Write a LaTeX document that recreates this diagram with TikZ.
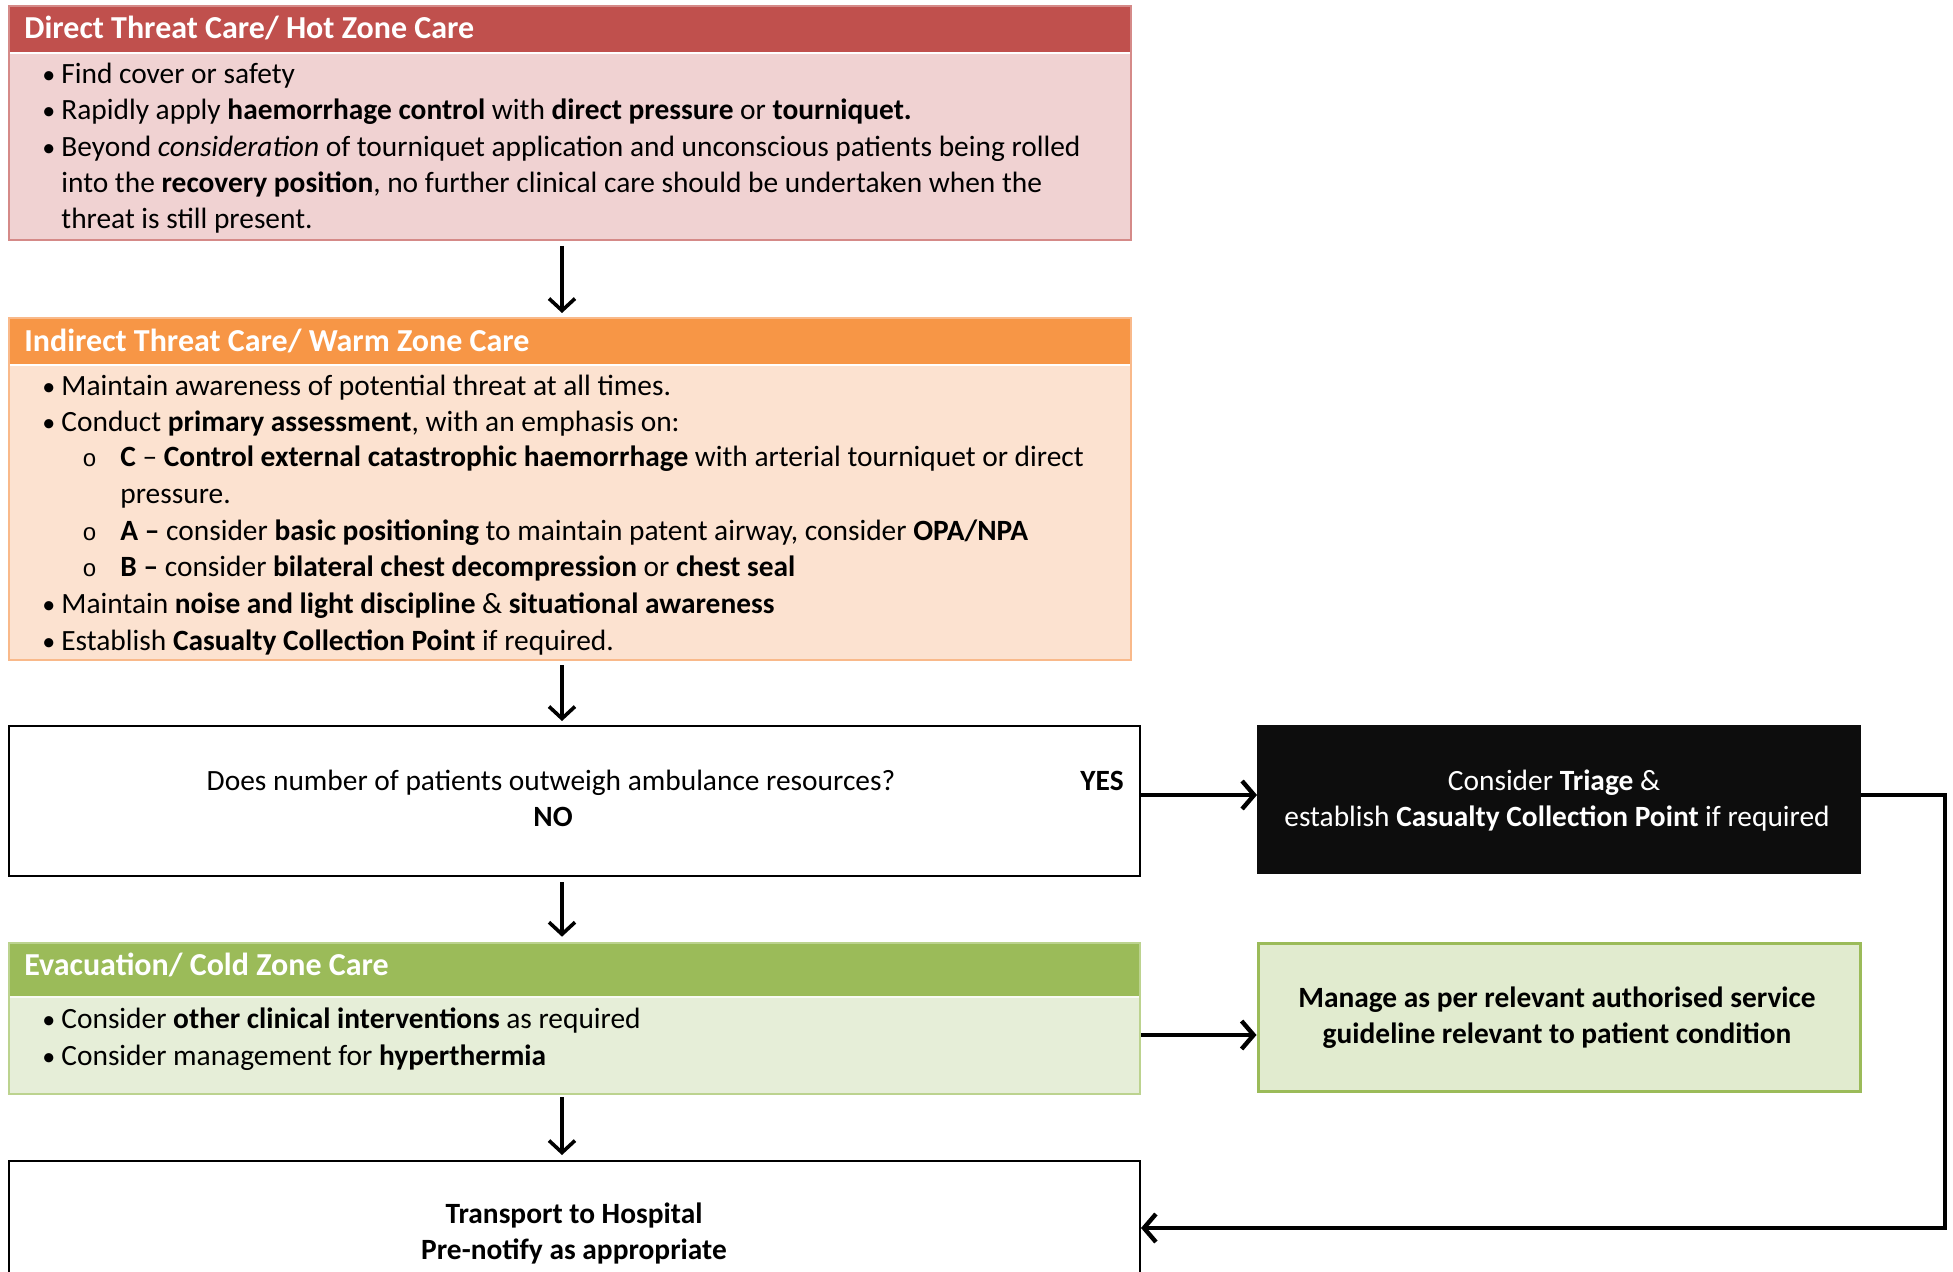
\documentclass[tikz,border=0pt]{standalone}
\usepackage{fontspec}
\setmainfont{Carlito}
\newfontfamily\monofnt{Liberation Mono}
\usetikzlibrary{arrows.meta,fit,calc}
\definecolor{redhdr}{HTML}{C0504D}
\definecolor{redbody}{HTML}{F0D2D2}
\definecolor{redline}{HTML}{D58A88}
\definecolor{orhdr}{HTML}{F79646}
\definecolor{orbody}{HTML}{FCE2D0}
\definecolor{orline}{HTML}{F9B98A}
\definecolor{grhdr}{HTML}{9BBB59}
\definecolor{grbody}{HTML}{E6EED8}
\definecolor{grline}{HTML}{BCD38F}
\definecolor{grbox}{HTML}{E1EBCF}
\definecolor{blkbox}{HTML}{0D0D0D}
\tikzset{
  hdr/.style={font=\fontsize{16}{18}\selectfont\bfseries, text=white, anchor=west, inner sep=0pt},
  txt/.style={font=\fontsize{14.7}{17}\selectfont, anchor=base west, inner sep=0pt},
  ctxt/.style={font=\fontsize{14.7}{17}\selectfont, anchor=base, inner sep=0pt},
  bul/.style={font=\fontsize{13}{15}\selectfont, anchor=base west, inner sep=0pt},
  subbul/.style={font=\fontsize{12}{14}\selectfont\monofnt, anchor=base west, inner sep=0pt},
  frame/.style={inner sep=0pt, line width=1pt},
  arr/.style={line width=1.8pt, -{Straight Barb[length=6pt,width=13pt,line width=1.8pt]}},
  harr/.style={line width=2.4pt, -{Straight Barb[length=6pt,width=14pt,line width=2.2pt]}},
}
\begin{document}
\begin{tikzpicture}[x=0.5pt,y=-0.5pt]
\useasboundingbox (0,0) rectangle (1953,1272);
\fill[white] (0,0) rectangle (1953,1272);

% ---------- Box 1: Direct threat ----------
\node[frame, fit={(9,6)(1131,240)}, fill=redbody, draw=redline] (b1) {};
\fill[redhdr] (10,7) rectangle (1130,52);
\draw[white, line width=0.8pt] (10,53) -- (1130,53);
\node[hdr] (h1) at (24,28) {Direct Threat Care/ Hot Zone Care};
\node[bul] (b1d1) at (42,84) {•};
\node[txt] (b1l1) at (61,84) {Find cover or safety};
\node[bul] (b1d2) at (42,120) {•};
\node[txt] (b1l2) at (61,120) {Rapidly apply \textbf{haemorrhage control} with \textbf{direct pressure} or \textbf{tourniquet.}};
\node[bul] (b1d3) at (42,157) {•};
\node[txt] (b1l3) at (61,157) {Beyond \textit{consideration} of tourniquet application and unconscious patients being rolled};
\node[txt] (b1l4) at (61,193) {into the \textbf{recovery position}, no further clinical care should be undertaken when the};
\node[txt] (b1l5) at (61,229) {threat is still present.};

% ---------- Box 2: Indirect threat ----------
\node[frame, fit={(9,318)(1131,660)}, fill=orbody, draw=orline] (b2) {};
\fill[orhdr] (10,319) rectangle (1130,364);
\draw[white, line width=0.8pt] (10,365) -- (1130,365);
\node[hdr] (h2) at (24,341) {Indirect Threat Care/ Warm Zone Care};
\node[bul] (b2d1) at (42,396) {•};
\node[txt] (b2l1) at (61,396) {Maintain awareness of potential threat at all times.};
\node[bul] (b2d2) at (42,432) {•};
\node[txt] (b2l2) at (61,432) {Conduct \textbf{primary assessment}, with an emphasis on:};
\node[subbul] (b2o1) at (82,467) {o};
\node[txt] (b2l3) at (120,467) {\textbf{C} – \textbf{Control external catastrophic haemorrhage} with arterial tourniquet or direct};
\node[txt] (b2l4) at (120,503) {pressure.};
\node[subbul] (b2o2) at (82,540) {o};
\node[txt] (b2l5) at (120,540) {\textbf{A –} consider \textbf{basic positioning} to maintain patent airway, consider \textbf{OPA/NPA}};
\node[subbul] (b2o3) at (82,576) {o};
\node[txt] (b2l6) at (120,576) {\textbf{B –} consider \textbf{bilateral chest decompression} or \textbf{chest seal}};
\node[bul] (b2d3) at (42,613) {•};
\node[txt] (b2l7) at (61,613) {Maintain \textbf{noise and light discipline} \& \textbf{situational awareness}};
\node[bul] (b2d4) at (42,650) {•};
\node[txt] (b2l8) at (61,650) {Establish \textbf{Casualty Collection Point} if required.};

% ---------- Box 3: decision ----------
\node[frame, fit={(9,726)(1140,876)}, fill=white, draw=black] (b3) {};
\node[ctxt] (q) at (551,790) {Does number of patients outweigh ambulance resources?};
\node[ctxt] (no) at (553,826) {\textbf{NO}};
\node[ctxt] (yes) at (1102,790) {\textbf{YES}};

% ---------- Black box ----------
\node[frame, fit={(1258,726)(1860,873)}, fill=blkbox, draw=blkbox] (blk) {};
\node[ctxt, text=white] (t1) at (1554,790) {Consider \textbf{Triage} \&};
\node[ctxt, text=white] (t2) at (1557,826) {establish \textbf{Casualty Collection Point} if required};

% ---------- Box 4: evacuation ----------
\node[frame, fit={(9,943)(1140,1094)}, fill=grbody, draw=grline, line width=1.3pt] (b4) {};
\fill[grhdr] (10,944) rectangle (1139,996);
\draw[white!70!grbody, line width=1pt] (10,997) -- (1139,997);
\node[hdr] (h4) at (24,965) {Evacuation/ Cold Zone Care};
\node[bul] (b4d1) at (42,1028) {•};
\node[txt] (b4l1) at (61,1028) {Consider \textbf{other clinical interventions} as required};
\node[bul] (b4d2) at (42,1065) {•};
\node[txt] (b4l2) at (61,1065) {Consider management for \textbf{hyperthermia}};

% ---------- Green right box ----------
\node[frame, fit={(1258,943)(1860,1091)}, fill=grbox, draw=grhdr, line width=1.5pt] (gr) {};
\node[ctxt] (g1) at (1557,1007) {\textbf{Manage as per relevant authorised service}};
\node[ctxt] (g2) at (1557,1043) {\textbf{guideline relevant to patient condition}};

% ---------- Box 5: transport ----------
\node[frame, fit={(9,1161)(1140,1300)}, fill=white, draw=black] (b5) {};
\node[ctxt] (tr1) at (574,1223) {\textbf{Transport to Hospital}};
\node[ctxt] (tr2) at (574,1259) {\textbf{Pre-notify as appropriate}};

% ---------- Connectors ----------
\coordinate (ax) at (562,0);
\coordinate (yy) at (0,795);
\coordinate (gy) at (0,1035);
\coordinate (ry) at (0,1228);
\coordinate (rx) at (1945,0);
\draw[arr, shorten <=2.5pt, shorten >=2pt] (b1.south -| ax) -- (b2.north -| ax);
\draw[arr, shorten <=2pt, shorten >=2pt] (b2.south -| ax) -- (b3.north -| ax);
\draw[arr, shorten <=2.5pt, shorten >=2.5pt] (b3.south -| ax) -- (b4.north -| ax);
\draw[arr, shorten <=1pt, shorten >=2.5pt] (b4.south -| ax) -- (b5.north -| ax);
\draw[harr] (b3.east |- yy) -- (blk.west |- yy);
\draw[harr] (b4.east |- gy) -- (gr.west |- gy);
\draw[harr] (blk.east |- yy) -- (rx |- yy) -- (rx |- ry) -- (b5.east |- ry);
\end{tikzpicture}
\end{document}
